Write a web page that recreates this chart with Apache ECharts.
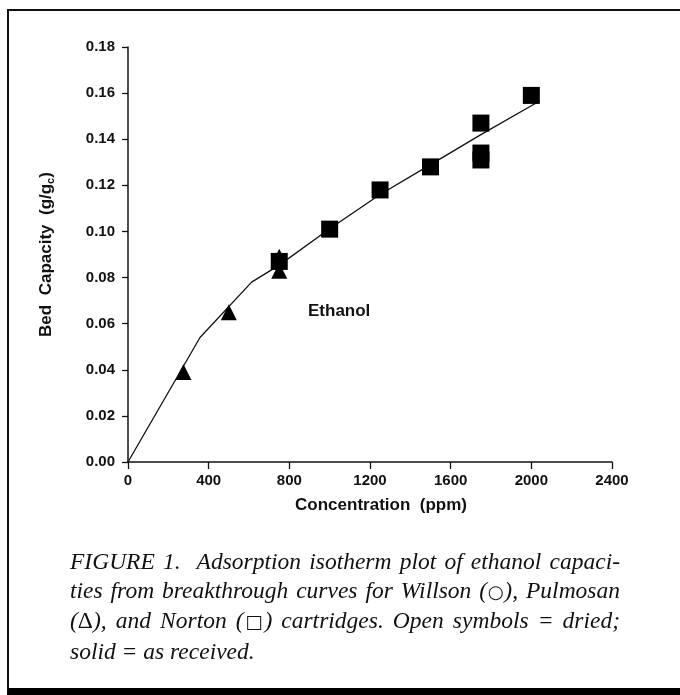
<!DOCTYPE html>
<html>
<head>
<meta charset="utf-8">
<script src="https://cdn.jsdelivr.net/npm/echarts@6/dist/echarts.min.js"></script>
<style>
  html, body { margin: 0; padding: 0; background: #fff; }
  #wrap { position: relative; width: 680px; height: 695px; overflow: hidden; }
  #chart { position: absolute; left: 0; top: 0; width: 680px; height: 695px; }
  /* figure frame: top + left rule, heavy bar at the bottom */
  #frame {
    position: absolute; left: 7px; top: 9px; width: 673px; height: 686px;
    box-sizing: border-box; pointer-events: none;
    border-top: 2px solid #111; border-left: 2px solid #111; border-bottom: 7px solid #000;
  }
  #caption {
    position: absolute; left: 70px; top: 547px; width: 550px;
    font-family: "Liberation Serif", "DejaVu Serif", serif; font-style: italic;
    font-size: 23.5px; line-height: 28.7px; color: #111;
  }
  #caption .j { text-align: justify; text-align-last: justify; white-space: nowrap; }
  #caption .sym { font-family: "DejaVu Sans", sans-serif; font-style: normal; font-size: 0.78em; margin: 0 -0.08em; }
  #caption .up { font-style: normal; }
</style>
</head>
<body>
<div id="wrap">
  <div id="chart"></div>
  <div id="frame"></div>
  <div id="caption">
    <div class="j">FIGURE 1.&nbsp; Adsorption isotherm plot of ethanol capaci-</div>
    <div class="j">ties from breakthrough curves for Willson (<span class="sym">○</span>), Pulmosan</div>
    <div class="j">(<span class="up">Δ</span>), and Norton (<span class="sym">□</span>) cartridges. Open symbols = dried;</div>
    <div>solid = as received.</div>
  </div>
</div>
<script>
// fitted isotherm curve
const fitConc = [0, 357, 613, 750, 1000, 1250, 1500, 1750, 2000, 2040];
const fitCap = [0, 0.054, 0.078, 0.0854, 0.1012, 0.116, 0.129, 0.142, 0.1545, 0.1565];

// Norton (solid squares)
const nortonConc = [750, 1000, 1250, 1500, 1750, 1750, 1750, 2000];
const nortonCap = [0.087, 0.101, 0.118, 0.128, 0.147, 0.134, 0.131, 0.159];

// Pulmosan (solid triangles)
const pulmosanConc = [275, 500, 750, 750];
const pulmosanCap = [0.039, 0.065, 0.083, 0.089];

const xTicks = [0, 400, 800, 1200, 1600, 2000, 2400];
const yTicks = [0, 0.02, 0.04, 0.06, 0.08, 0.10, 0.12, 0.14, 0.16, 0.18];

const ink = '#111';
const sans = '"Liberation Sans", Arial, sans-serif';

const pairs = (xs, ys) => xs.map((x, i) => [x, ys[i]]);

const chart = echarts.init(document.getElementById('chart'));

chart.setOption({
  animation: false,
  grid: { left: 128, right: 68, top: 47, bottom: 233 },
  xAxis: {
    type: 'value',
    min: xTicks[0],
    max: xTicks[xTicks.length - 1],
    interval: xTicks[1] - xTicks[0],
    name: 'Concentration  (ppm)',
    nameLocation: 'middle',
    nameGap: 35,
    nameTextStyle: { color: ink, fontSize: 17, fontWeight: 'bold', fontFamily: sans, padding: [0, 0, 0, 22] },
    axisLine: { lineStyle: { color: ink, width: 1.5 } },
    axisTick: { length: 7, lineStyle: { color: ink, width: 1.3 } },
    axisLabel: {
      color: ink, fontSize: 15, fontWeight: 'bold', fontFamily: sans, margin: 11,
      formatter: v => String(v)
    },
    splitLine: { show: false }
  },
  yAxis: {
    type: 'value',
    min: yTicks[0],
    max: yTicks[yTicks.length - 1],
    interval: 0.02,
    name: '{t|Bed  Capacity  (g/g}{s|c}{t|)}',
    nameLocation: 'middle',
    nameGap: 72,
    nameTextStyle: {
      rich: {
        t: { color: ink, fontSize: 17, fontWeight: 'bold', fontFamily: sans, lineHeight: 19 },
        s: { color: ink, fontSize: 11, fontWeight: 'bold', fontFamily: sans, lineHeight: 11, verticalAlign: 'bottom' }
      }
    },
    axisLine: { show: true, lineStyle: { color: ink, width: 1.5 } },
    axisTick: { show: true, length: 6, lineStyle: { color: ink, width: 1.3 } },
    axisLabel: {
      color: ink, fontSize: 15, fontWeight: 'bold', fontFamily: sans, margin: 13,
      formatter: v => v.toFixed(2)
    },
    splitLine: { show: false }
  },
  graphic: [
    {
      type: 'text', left: 308, top: 303,
      style: { text: 'Ethanol', font: 'bold 17px "Liberation Sans", Arial, sans-serif', fill: ink }
    }
  ],
  series: [
    {
      name: 'Isotherm',
      type: 'line',
      data: pairs(fitConc, fitCap),
      showSymbol: false,
      symbol: 'none',
      lineStyle: { color: ink, width: 1.3 },
      z: 1
    },
    {
      name: 'Pulmosan',
      type: 'scatter',
      data: pairs(pulmosanConc, pulmosanCap),
      symbol: 'triangle',
      symbolSize: 16,
      itemStyle: { color: '#000', opacity: 1 },
      z: 2
    },
    {
      name: 'Norton',
      type: 'scatter',
      data: pairs(nortonConc, nortonCap),
      symbol: 'rect',
      symbolSize: 17,
      itemStyle: { color: '#000', opacity: 1 },
      z: 3
    }
  ]
});
</script>
</body>
</html>
